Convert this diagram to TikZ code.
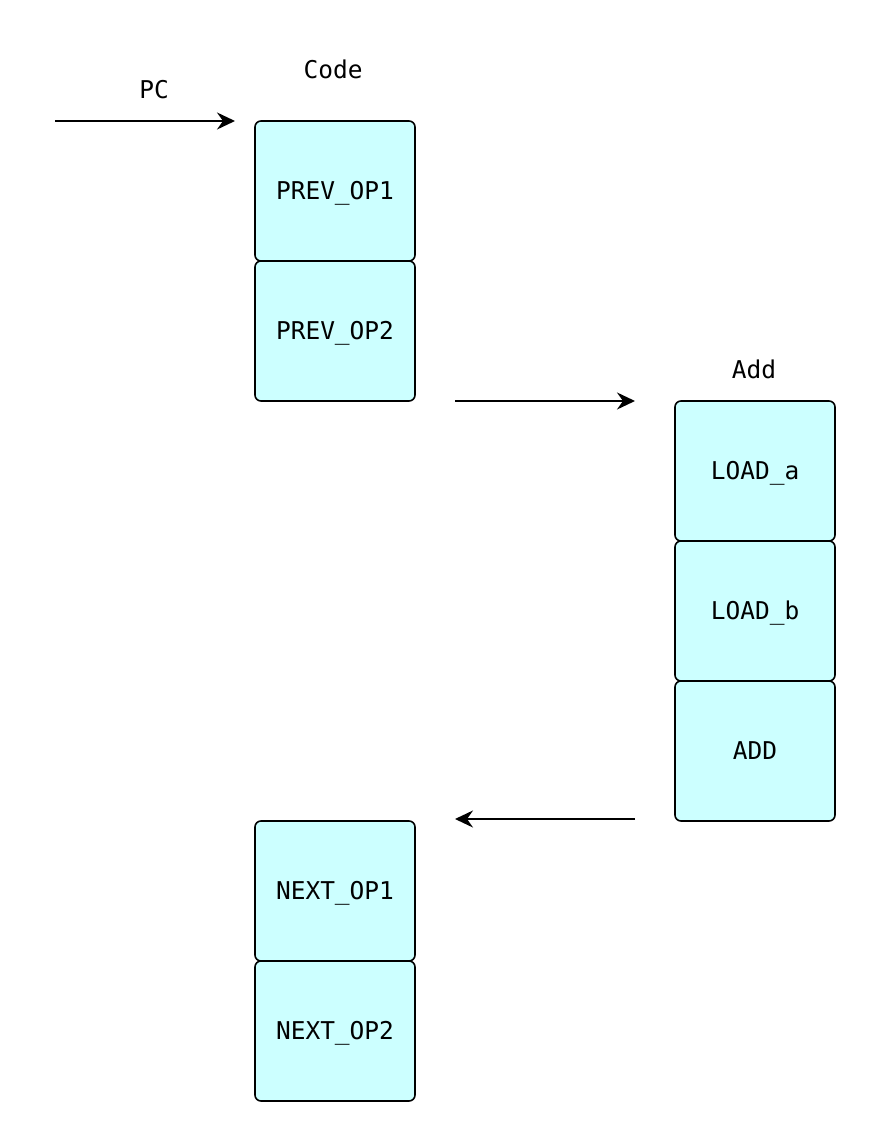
\documentclass[tikz,border=0pt]{standalone}
\usepackage{fontspec}
\setmonofont{DejaVu Sans Mono}
\usetikzlibrary{arrows.meta}
\begin{document}
\begin{tikzpicture}[x=1pt,y=-1pt,
  txt/.style={font=\fontsize{24.5}{28}\selectfont\ttfamily, text height=17.5pt, text depth=0pt},
  op/.style={txt, draw=black, line width=1.6pt, fill=opfill, rounded corners=6pt,
    minimum width=160pt, minimum height=140pt, inner sep=0pt},
  lbl/.style={txt, inner sep=0pt},
  flow/.style={line width=2pt, -{Stealth[length=18pt,width=17pt,inset=6pt]}}]
\definecolor{opfill}{HTML}{CCFFFF}
\useasboundingbox (0,0) rectangle (876,1142);

% code column
\node[lbl] (code) at (333,70) {Code};
\node[op] (p1) at (335,191) {PREV\_OP1};
\node[op] (p2) at (335,331) {PREV\_OP2};

% add function
\node[lbl] (addl) at (754,370) {Add};
\node[op] (la) at (755,471) {LOAD\_a};
\node[op] (lb) at (755,611) {LOAD\_b};
\node[op] (ad) at (755,751) {ADD};

% continuation
\node[op] (n1) at (335,891) {NEXT\_OP1};
\node[op] (n2) at (335,1031) {NEXT\_OP2};

% program counter and jumps
\node[lbl] (pc) at (154,90) {PC};
\coordinate (pcs) at (55,121);
\coordinate (pce) at (235,121);
\coordinate (cs) at (455,401);
\coordinate (ce) at (635,401);
\coordinate (rs) at (635,819);
\coordinate (re) at (455,819);
\draw[flow] (pcs) -- (pce);
\draw[flow] (cs) -- (ce);
\draw[flow] (rs) -- (re);
\end{tikzpicture}
\end{document}
